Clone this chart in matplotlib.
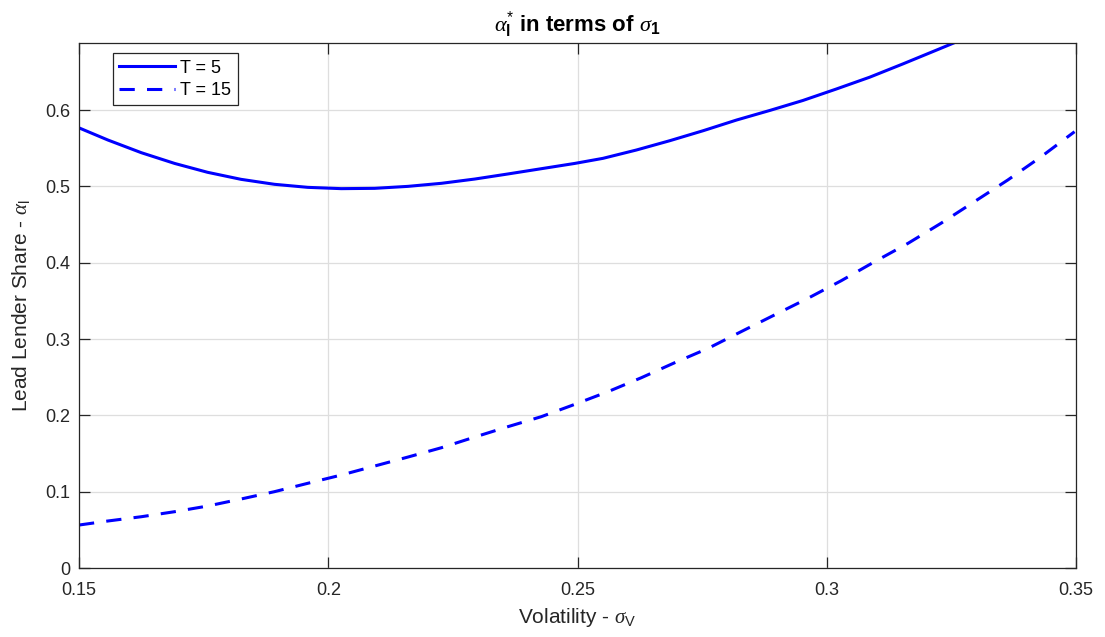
import matplotlib
matplotlib.use("Agg")
import matplotlib.pyplot as plt

plt.rcParams['font.family'] = ['Liberation Sans', 'DejaVu Sans']
plt.rcParams['mathtext.fontset'] = 'custom'
plt.rcParams['mathtext.rm'] = 'Liberation Sans'
plt.rcParams['mathtext.it'] = 'Liberation Serif:italic'
plt.rcParams['mathtext.bf'] = 'Liberation Sans:bold'

# T = 5 (solid)
sigma_t5 = [0.1499, 0.1558, 0.1625, 0.1692, 0.1758, 0.1825, 0.1892, 0.1959, 0.2026,
            0.2093, 0.2160, 0.2227, 0.2294, 0.2360, 0.2427, 0.2494, 0.2551, 0.2618,
            0.2685, 0.2752, 0.2819, 0.2886, 0.2952, 0.3019, 0.3086, 0.3153, 0.3220,
            0.3253]
alpha_t5 = [0.5769, 0.5607, 0.5441, 0.5300, 0.5184, 0.5092, 0.5027, 0.4987, 0.4970,
            0.4974, 0.5000, 0.5040, 0.5096, 0.5162, 0.5231, 0.5300, 0.5367, 0.5476,
            0.5598, 0.5729, 0.5869, 0.5995, 0.6125, 0.6275, 0.6430, 0.6605, 0.6785,
            0.6874]

# T = 15 (dashed)
sigma_t15 = [0.1500, 0.1558, 0.1625, 0.1692, 0.1758, 0.1825, 0.1892, 0.1959, 0.2026,
             0.2093, 0.2160, 0.2227, 0.2294, 0.2360, 0.2427, 0.2487, 0.2561, 0.2628,
             0.2695, 0.2762, 0.2828, 0.2895, 0.2962, 0.3029, 0.3096, 0.3163, 0.3229,
             0.3296, 0.3363, 0.3430, 0.3497]
alpha_t15 = [0.0563, 0.0616, 0.0672, 0.0738, 0.0812, 0.0904, 0.1000, 0.1110, 0.1218,
             0.1336, 0.1454, 0.1576, 0.1716, 0.1851, 0.1982, 0.2126, 0.2310, 0.2493,
             0.2690, 0.2878, 0.3096, 0.3315, 0.3533, 0.3764, 0.4013, 0.4254, 0.4516,
             0.4799, 0.5083, 0.5388, 0.5716]

xticks = [0.15, 0.2, 0.25, 0.3, 0.35]
xticklabels = ['0.15', '0.2', '0.25', '0.3', '0.35']
yticks = [0, 0.1, 0.2, 0.3, 0.4, 0.5, 0.6]
yticklabels = ['0', '0.1', '0.2', '0.3', '0.4', '0.5', '0.6']

fig = plt.figure(figsize=(11.05, 6.37), dpi=100)
ax = fig.add_axes([0.0715, 0.1083, 0.9023, 0.8237])

dark = '#262626'
ax.plot(sigma_t5, alpha_t5, color='#0000ff', lw=2.2, label='T = 5',
        solid_joinstyle='round')
ax.plot(sigma_t15, alpha_t15, color='#0000ff', lw=2.2, linestyle=(0, (5, 4)),
        label='T = 15')

ax.set_xlim(0.15, 0.35)
ax.set_ylim(0, 0.6874)
ax.set_xticks(xticks)
ax.set_xticklabels(xticklabels)
ax.set_yticks(yticks)
ax.set_yticklabels(yticklabels)
ax.grid(True, color='#dedede', lw=0.9)
ax.set_axisbelow(True)
ax.tick_params(direction='in', length=8, width=0.9, top=True, right=True,
               labelsize=13, colors=dark, pad=6)
ax.tick_params(axis='x', pad=10)
for s in ax.spines.values():
    s.set_color(dark)
    s.set_linewidth(0.9)

ax.set_xlabel(r'Volatility - $\sigma_\mathrm{V}$', fontsize=15, color=dark, labelpad=5)
ax.set_ylabel(r'Lead Lender Share - $\alpha_\mathrm{l}$', fontsize=15, color=dark, labelpad=10)
ax.set_title(r'$\alpha_\mathbf{l}^{*}$ in terms of $\sigma_\mathbf{1}$', fontsize=16,
             fontweight='bold', color='black', pad=8)

leg = ax.legend(loc='upper left', bbox_to_anchor=(0.034, 0.981), borderaxespad=0,
                fontsize=13, handlelength=3.1, handletextpad=0.28, borderpad=0.35,
                labelspacing=0.3, fancybox=False, framealpha=1)
leg.get_frame().set_edgecolor(dark)
leg.get_frame().set_linewidth(0.9)

fig.savefig('out.png', dpi=100)
